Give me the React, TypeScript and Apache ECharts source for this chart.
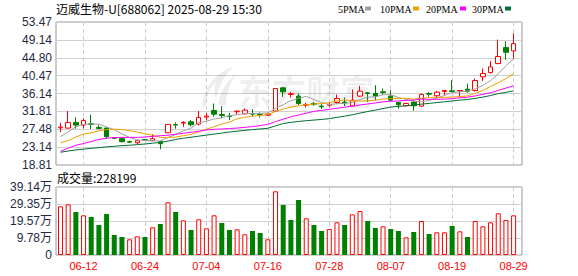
import React, { useEffect, useRef } from "react";
import * as echarts from "echarts";

const titleText = "迈威生物-U[688062] 2025-08-29 15:30";

const dates = [
  "06-09", "06-10", "06-11", "06-12", "06-13", "06-16", "06-17", "06-18", "06-19", "06-20",
  "06-23", "06-24", "06-25", "06-26", "06-27", "06-30", "07-01", "07-02", "07-03", "07-04",
  "07-07", "07-08", "07-09", "07-10", "07-11", "07-14", "07-15", "07-16", "07-17", "07-18",
  "07-21", "07-22", "07-23", "07-24", "07-25", "07-28", "07-29", "07-30", "07-31", "08-01",
  "08-04", "08-05", "08-06", "08-07", "08-08", "08-11", "08-12", "08-13", "08-14", "08-15",
  "08-18", "08-19", "08-20", "08-21", "08-22", "08-25", "08-26", "08-27", "08-28", "08-29",
];

const opens = [
  27.8, 27.76, 29.13, 28.49, 28.8, 27.92, 27.76, 25.45, 25.19, 24.5,
  24.21, 24.95, 24.7, 24.45, 26.63, 28.6, 28.97, 29.29, 28.73, 30.42,
  32.03, 31.06, 30.66, 31.71, 31.22, 31.3, 31.14, 30.9, 31.87, 37.51,
  35.9, 35.5, 33.32, 33.72, 33.08, 33.32, 33.97, 34.05, 33.16, 35.5,
  36.3, 36.14, 36.54, 35.5, 33.97, 33.16, 34.05, 33.08, 36.14, 35.58,
  36.62, 36.79, 36.71, 37.19, 36.87, 40.17, 41.22, 43.4, 47.26, 46.46,
];
const closes = [
  28.0, 29.13, 28.49, 29.61, 28.65, 27.68, 25.66, 25.3, 24.46, 24.35,
  24.7, 24.9, 25.18, 23.97, 28.65, 28.5, 29.13, 28.57, 30.34, 30.66,
  31.14, 30.82, 30.58, 31.87, 32.11, 31.14, 30.98, 31.14, 37.35, 36.54,
  36.1, 33.72, 33.48, 33.56, 32.92, 33.48, 34.93, 33.88, 34.53, 36.71,
  36.14, 35.5, 36.38, 34.53, 33.4, 33.72, 33.16, 35.9, 35.98, 36.46,
  36.87, 36.62, 36.87, 36.71, 39.29, 40.98, 42.59, 45.09, 46.14, 48.23,
];
const lows = [
  26.8, 27.6, 27.6, 27.68, 27.52, 27.44, 25.18, 25.15, 24.3, 24.2,
  23.89, 24.75, 24.62, 22.6, 26.55, 27.6, 28.08, 28.16, 28.4, 29.69,
  30.5, 30.1, 29.69, 31.06, 31.06, 30.66, 30.34, 30.66, 31.71, 35.33,
  35.17, 33.32, 32.76, 33.16, 32.36, 32.92, 33.56, 33.08, 33.08, 35.33,
  34.13, 34.53, 35.74, 34.21, 32.44, 33.0, 31.95, 32.92, 35.33, 35.17,
  35.74, 36.46, 35.17, 36.3, 36.62, 39.2, 40.98, 43.23, 44.36, 44.6,
];
const highs = [
  29.05, 31.87, 30.34, 30.1, 30.98, 28.49, 27.92, 25.6, 25.6, 24.7,
  24.86, 25.1, 26.31, 24.7, 28.73, 29.13, 29.45, 29.69, 31.87, 31.47,
  33.72, 33.08, 31.47, 32.03, 32.52, 32.36, 31.55, 31.3, 37.43, 37.75,
  36.54, 36.14, 33.88, 34.13, 33.56, 33.88, 35.9, 35.17, 37.1, 38.0,
  36.54, 38.16, 37.35, 36.95, 34.13, 33.88, 34.53, 36.14, 36.46, 36.78,
  36.95, 39.37, 36.95, 38.56, 39.77, 42.19, 43.96, 49.2, 48.8, 50.73,
];

const ma5 = [
  25.66, 26.87, 28.08, 28.65, 28.78, 28.71, 28.02, 27.38, 26.35, 25.49,
  24.89, 24.74, 24.72, 24.62, 25.48, 26.24, 27.09, 27.76, 29.04, 29.44,
  29.97, 30.31, 30.71, 31.01, 31.3, 31.3, 31.34, 31.45, 32.54, 33.43,
  34.42, 34.97, 35.44, 34.68, 33.96, 33.43, 33.67, 33.75, 33.95, 34.71,
  35.24, 35.35, 35.85, 35.85, 35.19, 34.71, 34.24, 34.14, 34.43, 35.04,
  35.67, 36.37, 36.56, 36.71, 37.27, 38.09, 39.29, 40.93, 42.82, 44.61,
];
const ma10 = [
  24.2, 24.7, 25.6, 26.3, 26.6, 27.1, 27.4, 27.5, 27.4, 27.13,
  26.8, 26.38, 26.05, 25.49, 25.49, 25.57, 25.92, 26.24, 26.83, 27.46,
  28.11, 28.7, 29.24, 30.03, 30.37, 30.64, 30.83, 31.08, 31.78, 32.37,
  32.86, 33.16, 33.45, 33.61, 33.7, 33.93, 34.32, 34.6, 34.32, 34.34,
  34.34, 34.51, 34.8, 34.9, 34.95, 34.98, 34.8, 35.0, 35.14, 35.12,
  35.19, 35.31, 35.35, 35.57, 36.16, 36.88, 37.83, 38.75, 39.77, 40.94,
];
const ma20 = [
  22.1, 22.9, 23.6, 24.0, 24.5, 25.0, 25.3, 25.45, 25.5, 25.5,
  25.5, 25.6, 25.75, 25.9, 26.05, 26.25, 26.5, 26.75, 27.0, 27.3,
  27.46, 27.54, 27.65, 27.76, 27.93, 28.11, 28.38, 28.66, 29.31, 29.92,
  30.49, 30.93, 31.35, 31.82, 32.04, 32.29, 32.58, 32.84, 33.05, 33.36,
  33.6, 33.84, 34.13, 34.26, 34.33, 34.46, 34.56, 34.8, 34.73, 34.73,
  34.77, 34.91, 35.08, 35.24, 35.56, 35.93, 36.32, 36.88, 37.46, 38.03,
];
const ma30 = [
  21.9, 22.2, 22.45, 22.65, 22.85, 23.0, 23.2, 23.35, 23.5, 23.6,
  23.75, 23.9, 24.1, 24.3, 24.6, 25.0, 25.3, 25.55, 25.8, 26.05,
  26.3, 26.55, 26.8, 27.0, 27.2, 27.4, 27.55, 27.7, 28.3, 28.85,
  29.15, 29.35, 29.55, 29.7, 29.85, 30.05, 30.35, 30.64, 30.98, 31.39,
  31.77, 32.12, 32.5, 32.85, 33.01, 33.18, 33.32, 33.56, 33.75, 33.94,
  34.13, 34.33, 34.54, 34.7, 34.94, 35.27, 35.65, 36.12, 36.41, 36.8,
];

const volumes = [
  280000, 291700, 247600, 228400, 218800, 172700, 236000, 115100, 103600, 90200,
  107500, 103600, 159300, 178500, 303200, 247600, 199600, 143900, 205300, 153500,
  228400, 184200, 143900, 147800, 119000, 138200, 126700, 90200, 366500, 287900,
  201500, 316600, 211100, 172700, 138200, 149700, 188100, 172700, 234100, 253300,
  195700, 155400, 165000, 149700, 138200, 101700, 132400, 195700, 120900, 130500,
  130500, 167000, 136200, 103600, 195700, 165000, 188100, 239900, 201500, 228199,
];
const volUp = [
  1, 1, 0, 1, 0, 0, 0, 0, 0, 1,
  1, 0, 1, 0, 1, 0, 1, 0, 1, 1,
  1, 0, 0, 1, 1, 0, 0, 1, 1, 0,
  0, 0, 1, 0, 0, 1, 1, 0, 1, 1,
  0, 0, 1, 0, 0, 1, 0, 1, 0, 1,
  1, 0, 1, 0, 1, 1, 1, 1, 1, 1,
];

const priceTicks = ["18.81", "23.14", "27.48", "31.81", "36.14", "40.47", "44.80", "49.14", "53.47"];
const priceMin = 18.81;
const priceMax = 53.47;
const volTicks = ["0", "9.78万", "19.57万", "29.35万", "39.14万"];
const volMax = 391400;

const maNames = ["5PMA", "10PMA", "20PMA", "30PMA"];
const maColors = ["#a0a0a0", "#f0a000", "#ff00ff", "#006f35"];

const RED = "#ff0000";
const GREEN = "#008000";

let logoRegistered = false;
function registerLogo() {
  if (logoRegistered) return;
  logoRegistered = true;
  const d =
    "M2,40 C4,22 14,8 34,0 C24,10 18,20 16,34 C14,28 14,22 16,16 C10,22 6,30 6,40 Z M18,38 C20,26 26,16 36,8 C30,18 26,28 26,40 Z";
  echarts.graphic.registerShape("wmlogo", echarts.graphic.extendPath(d, {}) as any);
}

export default function App() {
  const ref = useRef<HTMLDivElement>(null);

  useEffect(() => {
    registerLogo();
    const chart = echarts.init(ref.current as HTMLDivElement, null, { renderer: "svg" });
    const labelEvery = (i: number) => (i - 3) % 8 === 0;
    const axisFont = "Liberation Sans";

    const legendX = [338, 380, 426, 472];
    const legendSq = [365, 413, 460, 505];
    const legendGraphics: any[] = [];
    maNames.forEach((n, k) => {
      legendGraphics.push({
        type: "text",
        x: legendX[k],
        y: 9,
        silent: true,
        style: { text: n, fill: "#000", font: '10px "Liberation Serif"', verticalAlign: "middle" },
      });
      legendGraphics.push({
        type: "rect",
        silent: true,
        shape: { x: legendSq[k], y: 6.5, width: 6, height: 4 },
        style: { fill: maColors[k] },
      });
    });

    const option: any = {
      animation: false,
      backgroundColor: "#ffffff",
      grid: [
        { left: 56, top: 22, width: 466, height: 143, show: true, borderColor: "#999", borderWidth: 1, backgroundColor: "transparent" },
        { left: 60.5, top: 22, width: 453.1, height: 143 },
        { left: 56, top: 187, width: 466, height: 68, show: true, borderColor: "#999", borderWidth: 1, backgroundColor: "transparent" },
        { left: 60.5, top: 187, width: 453.1, height: 68 },
      ],
      xAxis: [
        { gridIndex: 0, type: "value", min: 0, max: 1, show: false },
        {
          gridIndex: 1,
          type: "category",
          data: dates,
          boundaryGap: false,
          axisLine: { show: false },
          axisTick: { show: false },
          axisLabel: { show: false },
          splitLine: { show: true, interval: labelEvery, lineStyle: { color: "#cccccc", type: [4, 3], width: 1 } },
        },
        { gridIndex: 2, type: "value", min: 0, max: 1, show: false },
        {
          gridIndex: 3,
          type: "category",
          data: dates,
          boundaryGap: false,
          axisLine: { show: false },
          axisTick: { show: false },
          axisLabel: { show: true, interval: labelEvery, color: RED, fontSize: 11, fontFamily: axisFont, margin: 5 },
          splitLine: { show: true, interval: labelEvery, lineStyle: { color: "#cccccc", type: [4, 3], width: 1 } },
        },
      ],
      yAxis: [
        {
          gridIndex: 0,
          type: "value",
          min: 0,
          max: 8,
          interval: 1,
          axisLine: { show: false },
          axisTick: { show: false },
          axisLabel: {
            formatter: (v: number) => priceTicks[Math.round(v)],
            color: "#1f2a44",
            fontSize: 12,
            fontFamily: axisFont,
            margin: 4,
          },
          splitLine: { show: true, lineStyle: { color: "#d0d0d0", width: 1 } },
        },
        { gridIndex: 1, type: "value", min: priceMin, max: priceMax, show: false, splitLine: { show: false } },
        {
          gridIndex: 2,
          type: "value",
          min: 0,
          max: 4,
          interval: 1,
          axisLine: { show: false },
          axisTick: { show: false },
          axisLabel: {
            formatter: (v: number) => volTicks[Math.round(v)],
            color: "#1f2a44",
            fontSize: 12,
            fontFamily: axisFont + ', "Noto Sans CJK SC"',
            margin: 4,
          },
          splitLine: { show: true, lineStyle: { color: "#d0d0d0", width: 1 } },
        },
        { gridIndex: 3, type: "value", min: 0, max: volMax, show: false, splitLine: { show: false } },
      ],
      graphic: [
        {
          type: "wmlogo",
          x: 200,
          y: 66,
          scaleX: 1,
          scaleY: 1,
          silent: true,
          z: 1,
          style: { fill: "rgba(0,0,0,0.07)" },
        },
        {
          type: "text",
          x: 238,
          y: 90,
          silent: true,
          z: 1,
          style: {
            text: "东方财富",
            fill: "rgba(0,0,0,0.07)",
            font: 'bold 34px "Noto Sans CJK SC"',
            verticalAlign: "middle",
          },
        },
        {
          type: "text",
          x: 56,
          y: 8.5,
          silent: true,
          style: { text: titleText, fill: "#000", font: '12px "Noto Sans CJK SC"', verticalAlign: "middle" },
        },
        {
          type: "text",
          x: 57,
          y: 177.5,
          silent: true,
          style: {
            text: "成交量:" + volumes[volumes.length - 1],
            fill: "#000",
            font: '12px "Noto Sans CJK SC"',
            verticalAlign: "middle",
          },
        },
        ...legendGraphics,
      ],
      series: [
        {
          type: "candlestick",
          xAxisIndex: 1,
          yAxisIndex: 1,
          clip: false,
          barWidth: 5,
          data: dates.map((_, i) => [opens[i], closes[i], lows[i], highs[i]]),
          itemStyle: {
            color: "#ffffff",
            color0: GREEN,
            borderColor: RED,
            borderColor0: GREEN,
            borderWidth: 1,
          },
          z: 3,
        },
        ...[ma5, ma10, ma20, ma30].map((d, k) => ({
          type: "line",
          name: maNames[k],
          xAxisIndex: 1,
          yAxisIndex: 1,
          data: d,
          symbol: "none",
          showSymbol: false,
          clip: false,
          lineStyle: { color: maColors[k], width: 1 },
          z: 4,
        })),
        {
          type: "bar",
          xAxisIndex: 3,
          yAxisIndex: 3,
          clip: false,
          barWidth: 5,
          data: volumes.map((v, i) => ({
            value: v,
            itemStyle: volUp[i]
              ? { color: "#ffffff", borderColor: RED, borderWidth: 1 }
              : { color: GREEN, borderColor: GREEN, borderWidth: 0 },
          })),
        },
      ],
    };

    chart.setOption(option);
    return () => chart.dispose();
  }, []);

  return (
    <div
      ref={ref}
      style={{ position: "fixed", left: 0, top: 0, width: 578, height: 276, background: "#fff" }}
    />
  );
}
